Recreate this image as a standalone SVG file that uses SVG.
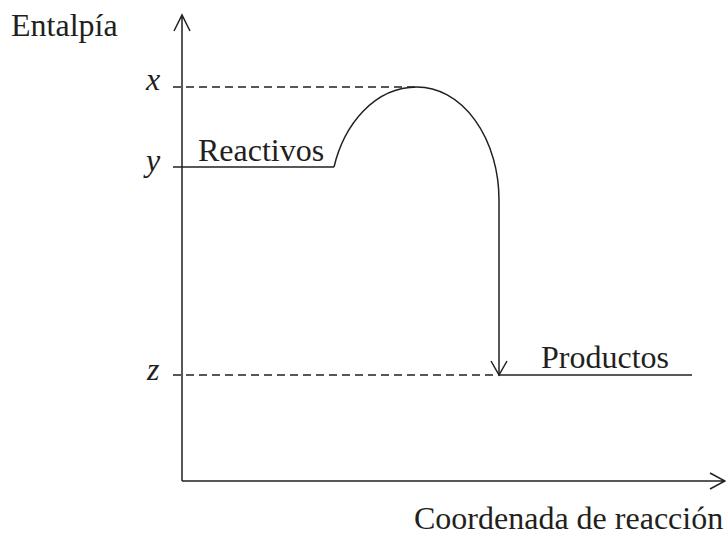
<svg xmlns="http://www.w3.org/2000/svg" width="726" height="537" viewBox="0 0 726 537">
<style>
.ln{fill:none;stroke:#231f20;stroke-width:1.5}
.ds{fill:none;stroke:#231f20;stroke-width:1.4;stroke-dasharray:8 5}
.t{font-family:"Liberation Serif",serif;font-size:32px;fill:#231f20}
.i{font-family:"Liberation Serif",serif;font-size:32px;font-style:italic;fill:#231f20}
</style>
<rect width="726" height="537" fill="#fff"/>
<g id="axes">
<path class="ln" d="M182,481 V15 M174,31 L182,15 L190,31"/>
<path class="ln" d="M182,481 H725 M710,473 L725,481 L710,489"/>
<text class="t" x="11" y="36">Entalpía</text>
<text class="t" x="414" y="529">Coordenada de reacción</text>
</g>
<g id="levels">
<path class="ds" d="M173,87 H415"/>
<path class="ds" d="M173,375 H498"/>
<path class="ln" d="M173,167 H334"/>
<path class="ln" d="M498,375 H692"/>
<text class="i" x="146" y="90">x</text>
<text class="i" x="146" y="171">y</text>
<text class="i" x="147" y="380">z</text>
</g>
<g id="reactivos"><text class="t" x="198" y="161">Reactivos</text></g>
<g id="productos"><text class="t" x="541" y="368">Productos</text></g>
<g id="connectors">
<path class="ln" d="M334,167 C344,125 374,87 417,87 A82,113 0 0 1 499,200 V374"/>
<path class="ln" d="M491,361 L499,375 L507,361"/>
</g>
</svg>
